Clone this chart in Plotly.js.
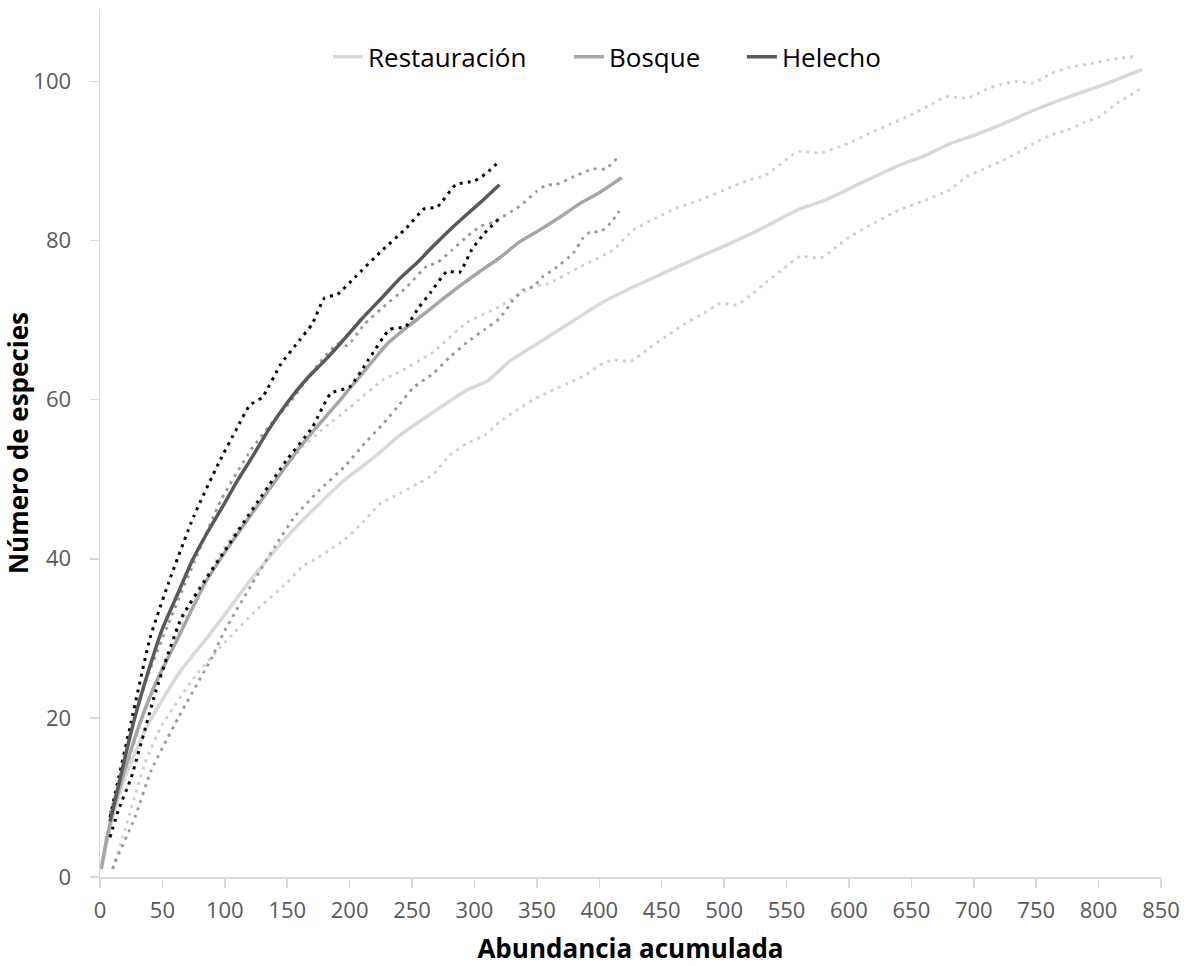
<!DOCTYPE html>
<html>
<head>
<meta charset="utf-8">
<script src="https://cdn.plot.ly/plotly-3.0.1.min.js"></script>
<style>html,body{margin:0;padding:0;background:#fff}#chart{width:1189px;height:966px}</style>
</head>
<body>
<div id="chart"></div>
<script>
// Restauración
var restX = [1, 5, 10, 20, 36, 50, 65, 88, 100, 122, 150, 175, 196, 220, 240, 260, 280, 294, 310, 328, 350, 375, 400, 425, 450, 481, 500, 530, 561, 580, 600, 641, 660, 680, 700, 721, 750, 775, 801, 835];
var restY = [1, 4, 7.5, 12.5, 18.4, 22.3, 26, 30.5, 33, 37.6, 42.8, 46.8, 49.9, 52.8, 55.5, 57.7, 59.8, 61.2, 62.3, 64.8, 67, 69.5, 72, 74, 75.8, 78, 79.3, 81.5, 84, 85, 86.5, 89.5, 90.6, 92.1, 93.2, 94.5, 96.5, 98, 99.4, 101.5];
var restUpX = [10, 20, 35, 50, 75, 100, 125, 146, 160, 180, 200, 227, 240, 267, 294, 320, 347, 358, 385, 411, 427, 445, 462, 481, 507, 518, 534, 555, 561, 577, 596, 628, 650, 668, 678, 695, 710, 721, 735, 748, 762, 775, 796, 815, 828];
var restUpY = [7, 13, 20.5, 26.5, 35, 41.5, 47, 51, 53.7, 56.5, 59, 62.5, 63.5, 66, 69.7, 71.7, 74.2, 74.5, 76.7, 78.8, 81.3, 82.8, 84.1, 85.1, 86.8, 87.5, 88.3, 90.8, 91.2, 91, 92, 94.3, 95.8, 97.3, 98.1, 97.9, 99, 99.6, 100, 99.8, 101, 101.7, 102.3, 102.9, 103.1];
var restLoX = [10, 20, 36, 49, 76, 100, 125, 150, 162, 175, 183, 196, 210, 225, 240, 255, 267, 280, 294, 308, 320, 335, 347, 360, 374, 388, 400, 411, 425, 440, 454, 468, 481, 497, 510, 522, 534, 548, 561, 577, 590, 601, 620, 641, 660, 681, 694, 708, 721, 735, 748, 761, 775, 788, 801, 815, 833];
var restLoY = [1, 6, 14.3, 18.9, 25.2, 29.5, 33.5, 37, 39, 40.2, 41, 42.4, 44.5, 47, 48.2, 49.5, 50.6, 53, 54.5, 55.5, 57.2, 58.8, 60, 61, 62, 63, 64.3, 65, 64.8, 66.5, 68, 69.5, 70.6, 72.1, 71.9, 73.2, 74.8, 76.5, 78, 77.8, 79.2, 80.5, 82.2, 83.9, 85, 86.4, 88, 89, 89.9, 91, 92.2, 93.2, 93.9, 94.8, 95.6, 97.3, 99];

// Bosque
var bosqX = [1, 5, 10, 20, 31, 45, 63, 84, 100, 114, 130, 146, 160, 175, 190, 200, 215, 230, 245, 260, 275, 290, 305, 320, 335, 353, 370, 385, 400, 418];
var bosqY = [1, 4.5, 8, 13.5, 18.9, 24.5, 30.2, 36.9, 40.8, 44, 47.5, 51, 54, 56.8, 59.5, 61.4, 64.2, 67, 69, 70.8, 72.7, 74.5, 76.2, 77.8, 79.7, 81.4, 83.1, 84.7, 86, 87.9];
var bosqUpX = [8, 15, 23, 36, 55, 76, 97, 121, 140, 152, 170, 190, 198, 212, 226, 246, 262, 270, 282, 294, 305, 315, 336, 350, 358, 365, 379, 395, 405, 414];
var bosqUpY = [8, 11.7, 17.2, 24.3, 31.9, 39.8, 47.4, 53.7, 57.5, 59.6, 63.5, 67, 66.8, 69.5, 71.5, 74.2, 76.8, 77.2, 78.8, 80.5, 81.8, 82.3, 84.3, 86.2, 87, 87, 88, 89, 89, 90.3];
var bosqLoX = [10, 12, 28, 41, 63, 90, 100, 122, 140, 156, 175, 196, 212, 227, 240, 251, 267, 280, 294, 308, 320, 331, 339, 347, 355, 363, 379, 387, 393, 401, 409, 416];
var bosqLoY = [1, 1.8, 7.5, 13.4, 20.1, 27.7, 31, 36.9, 41.5, 45.3, 48.5, 51.6, 54.5, 57, 59.4, 61.5, 63.3, 65.3, 67.2, 68.8, 70.2, 72.5, 73.8, 74.2, 75.5, 76.3, 78.4, 80.3, 81.1, 81.1, 82.2, 83.7];

// Helecho
var helX = [8, 12, 20, 28, 40, 50, 62, 74, 86, 98, 110, 122, 135, 150, 165, 180, 195, 210, 227, 240, 254, 267, 280, 294, 307, 320];
var helY = [7, 9.6, 15, 20.1, 26.5, 31.2, 35.5, 39.8, 43.3, 46.5, 49.8, 52.8, 56.2, 59.6, 62.5, 64.9, 67.5, 70.2, 73, 75.2, 77.2, 79.3, 81.3, 83.3, 85.1, 87];
var helUpX = [8, 15, 25, 40, 55, 75, 95, 110, 120, 130, 145, 160, 170, 180, 190, 205, 225, 245, 260, 270, 285, 300, 310, 320];
var helUpY = [7.5, 12.5, 19.5, 30, 37, 45.3, 52, 56.5, 59.3, 60.3, 64.5, 67.5, 69.5, 72.8, 73.2, 75.5, 78.6, 81.5, 84, 84.2, 87, 87.5, 88.5, 90];
var helLoX = [8, 15, 25, 45, 65, 85, 100, 115, 130, 150, 170, 185, 200, 215, 232, 245, 255, 265, 278, 288, 298, 308, 320];
var helLoY = [5, 8.5, 12.5, 23.5, 32.5, 37.5, 41, 44.5, 48, 52.5, 56.5, 60.8, 61.6, 65, 68.8, 69.2, 71.5, 73.5, 76.1, 76, 78.9, 80.9, 82.8];

var seriesNames = ['Restauración', 'Bosque', 'Helecho'];
var tickVals = [0, 50, 100, 150, 200, 250, 300, 350, 400, 450, 500, 550, 600, 650, 700, 750, 800, 850];

var dotPattern = '3px,5px';
function meanTrace(x, y, name, color, legendId) {
  return {x: x, y: y, name: name, type: 'scatter', mode: 'lines', legend: legendId,
    line: {color: color, width: 3.5, shape: 'spline', smoothing: 0.5}, hoverinfo: 'skip'};
}
function ciTrace(x, y, color, w) {
  return {x: x, y: y, type: 'scatter', mode: 'lines', showlegend: false,
    line: {color: color, width: w, dash: dotPattern, shape: 'spline', smoothing: 0.5}, hoverinfo: 'skip'};
}

var data = [
  ciTrace(restUpX, restUpY, '#cfcfcf', 2.8),
  ciTrace(restLoX, restLoY, '#cfcfcf', 2.8),
  meanTrace(restX, restY, seriesNames[0], '#d9d9d9', 'legend'),
  ciTrace(bosqUpX, bosqUpY, '#9a9a9a', 2.8),
  ciTrace(bosqLoX, bosqLoY, '#9a9a9a', 2.8),
  meanTrace(bosqX, bosqY, seriesNames[1], '#a6a6a6', 'legend2'),
  ciTrace(helUpX, helUpY, '#000000', 3),
  ciTrace(helLoX, helLoY, '#000000', 3),
  meanTrace(helX, helY, seriesNames[2], '#595959', 'legend3')
];

var legFont = {family: 'Open Sans, sans-serif', size: 26, color: '#000000'};
function legendAt(xp) {
  return {orientation: 'h', x: xp, xanchor: 'left', y: 0.945, yanchor: 'middle',
    font: legFont, bgcolor: 'rgba(0,0,0,0)', borderwidth: 0};
}

var tickFont = {family: 'Open Sans, sans-serif', size: 22, color: '#595959'};
var layout = {
  width: 1189, height: 966,
  margin: {l: 100, r: 28, t: 9, b: 89},
  paper_bgcolor: '#ffffff', plot_bgcolor: '#ffffff',
  showlegend: true,
  legend: legendAt(0.2149),
  legend2: legendAt(0.442),
  legend3: legendAt(0.605),
  xaxis: {range: [0, 850], tickvals: tickVals, ticks: 'outside', ticklen: 9, tickcolor: '#d9d9d9', tickwidth: 1.5,
    showline: true, linecolor: '#d9d9d9', linewidth: 1.5, showgrid: false, zeroline: false,
    tickfont: tickFont, ticklabelstandoff: 4,
    title: {text: 'Abundancia acumulada', font: {family: 'Open Sans, sans-serif', size: 26, color: '#000000', weight: 'bold'}, standoff: 20}},
  yaxis: {range: [0, 109.1], tick0: 0, dtick: 20, ticks: 'outside', ticklen: 9, tickcolor: '#d9d9d9', tickwidth: 1.5,
    showline: true, linecolor: '#d9d9d9', linewidth: 1.5, showgrid: false, zeroline: false,
    tickfont: tickFont, ticklabelstandoff: 14,
    title: {text: 'Número de especies', font: {family: 'Open Sans, sans-serif', size: 26, color: '#000000', weight: 'bold'}, standoff: 6}},
  xaxis2: {overlaying: 'x', anchor: 'y', range: [0, 850], tickvals: tickVals, ticks: 'inside', ticklen: 9,
    tickcolor: '#d9d9d9', tickwidth: 1.5, showticklabels: false, showline: false, showgrid: false, zeroline: false},
  yaxis2: {overlaying: 'y', anchor: 'x', range: [0, 109.1], tick0: 0, dtick: 20, ticks: 'inside', ticklen: 9,
    tickcolor: '#d9d9d9', tickwidth: 1.5, showticklabels: false, showline: false, showgrid: false, zeroline: false}
};

Plotly.newPlot('chart', data, layout, {staticPlot: true, displayModeBar: false});
</script>
</body>
</html>
